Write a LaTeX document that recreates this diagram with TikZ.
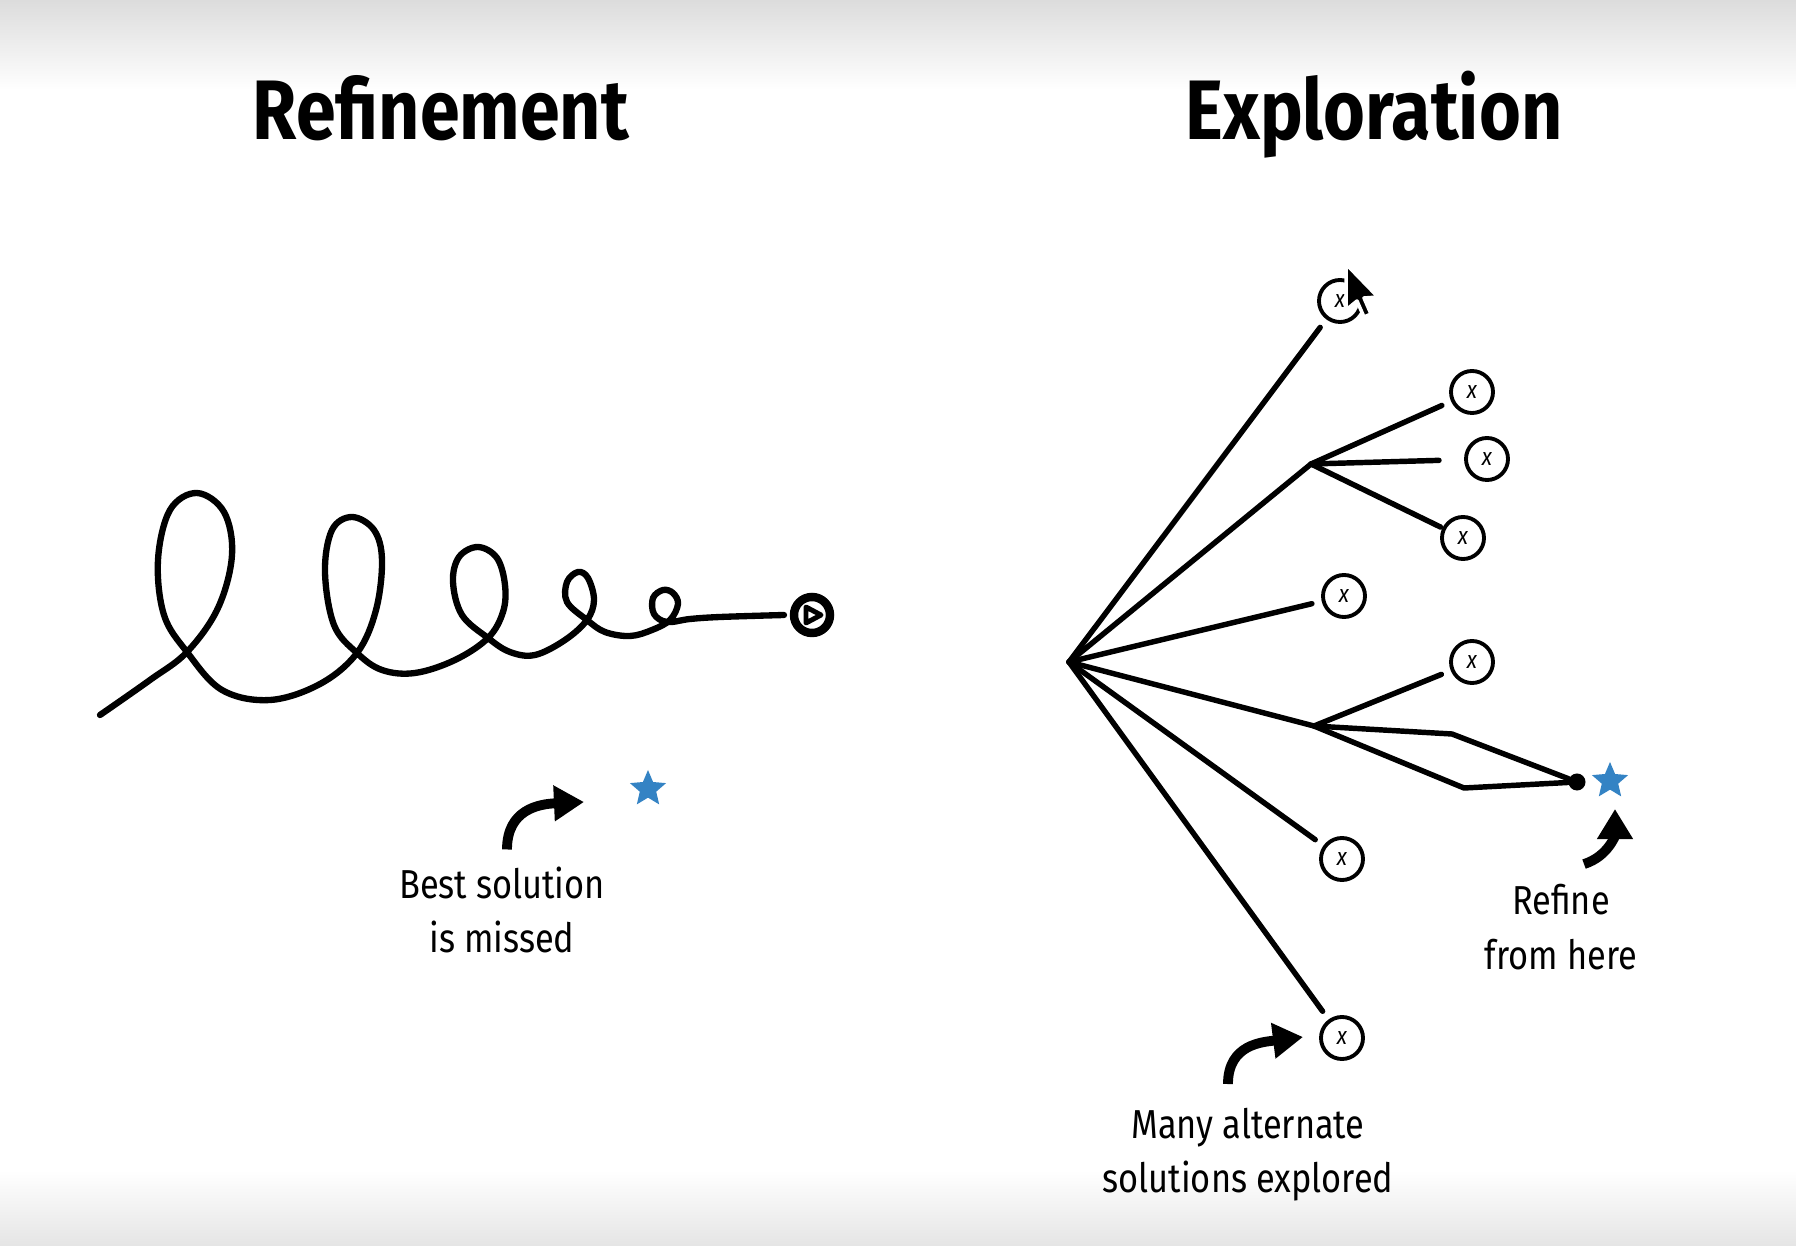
\documentclass[tikz,border=0pt]{standalone}
\usepackage{fontspec}
\setmainfont{Fira Sans}
\newfontfamily\handfont[FakeStretch=0.85]{Fira Sans}
\usetikzlibrary{arrows.meta, positioning, shapes.geometric, calc}
\definecolor{starblue}{RGB}{52, 131, 196}
\definecolor{fadegray}{RGB}{220, 220, 220}
\tikzset{
  headline/.style={font=\handfont\bfseries\fontsize{24}{28}\selectfont, anchor=base},
  note/.style={font=\handfont\fontsize{11.5}{15.4}\selectfont, align=center},
  branch/.style={line width=1.55pt, line cap=round, line join=round},
  loopline/.style={line width=1.8pt, line cap=round, line join=round},
  leaf/.style={circle, draw, line width=1.1pt, minimum size=0.42cm, inner sep=0pt,
              outer sep=0.12cm, font=\handfont\itshape\scriptsize},
  ring/.style={circle, draw, line width=2.4pt, minimum size=0.36cm, inner sep=0pt, outer sep=0.1cm},
  dot/.style={circle, fill, minimum size=0.17cm, inner sep=0pt},
  beststar/.style={star, star points=5, star point ratio=2.2, fill=starblue,
              minimum size=0.38cm, inner sep=0pt},
  curl/.style={line width=2.8pt, -{Triangle[length=0.3cm, width=0.34cm]}},
}

\begin{document}
\begin{tikzpicture}[x=0.01cm, y=-0.01cm]
  \useasboundingbox (0,0) rectangle (1796,1246);
  \fill[white] (0,0) rectangle (1796,1246);
  \shade[top color=fadegray, bottom color=white] (0,0) rectangle (1796,90);
  \shade[top color=white, bottom color=fadegray!75] (0,1170) rectangle (1796,1246);

  % titles
  \node[headline] (refine) at (441,140) {Refinement};
  \node[headline] (explore) at (1374,140) {Exploration};

  % refinement: the loop path
  \node[ring] (goal) at (812,615) {};
  \draw[line width=1.4pt, line join=round, shift={(goal.center)}] (-6,-8) -- (9,0) -- (-6,8) -- cycle;
  \draw[loopline] plot[smooth, tension=0.6] coordinates {(100,715) (150,680) (187,652)
    (218,608) (232,555) (224,512) (197,493) (170,510) (158,560) (164,615) (187,652)
    (222,690) (270,700) (320,684) (357,653) (376,610) (382,560) (374,530) (352,517)
    (332,530) (325,572) (334,625) (357,653) (382,670) (415,673) (455,660) (488,638)
    (503,612) (505,585) (497,558) (478,547) (459,557) (453,582) (462,615) (488,638)
    (510,652) (535,655) (565,640) (587,620) (594,600) (588,578) (578,572) (567,582)
    (567,602) (587,620) (605,632) (630,636) (652,630) (670,620) (678,604) (673,593)
    (663,590) (653,598) (654,614) (667,622) (690,619) (720,617) (goal.west)};

  \node[beststar] (best) at (648,789) {};
  \node[note] (missed) at (502,910) {Best solution\\is missed};
  \coordinate (missTip) at (584,802);
  \draw[curl] ([xshift=0.05cm, yshift=0.05cm]missed.north) .. controls +(0,-40) and +(-45,2) .. (missTip);

  % exploration: the tree
  \coordinate (root) at (1069,662);
  \coordinate (forkA) at (1311,464);
  \coordinate (forkB) at (1314,726);
  \coordinate (bendU) at (1452,734);
  \coordinate (bendL) at (1464,788);
  \node[leaf] (top) at (1340,301) {x};
  \node[leaf] (a1) at (1472,392) {x};
  \node[leaf] (a2) at (1487,459) {x};
  \node[leaf] (a3) at (1463,538) {x};
  \node[leaf] (mid) at (1344,596) {x};
  \node[leaf] (b1) at (1472,662) {x};
  \node[leaf] (low) at (1342,859) {x};
  \node[leaf] (bottom) at (1342,1038) {x};
  \node[dot] (hit) at (1577,782) {};
  \node[beststar] (found) at (1610,781) {};

  \draw[branch] (root) -- (top);
  \draw[branch] (root) -- (forkA) -- (a1);
  \draw[branch, shorten >=0.15cm] (forkA) -- (a2);
  \draw[branch, shorten >=-0.08cm] (forkA) -- (a3);
  \draw[branch] (root) -- (mid);
  \draw[branch] (root) -- (forkB) -- (b1);
  \draw[branch] (forkB) -- (bendU) -- (hit);
  \draw[branch] (forkB) -- (bendL) -- (hit);
  \draw[branch] (root) -- (low);
  \draw[branch] (root) -- (bottom);

  % mouse pointer over the top leaf
  \coordinate (pointer) at (1346,264);
  \filldraw[fill=black, draw=white, line width=1pt, line join=round, shift={(pointer)}]
    (0,0) -- (0,46) -- (11,37) -- (18,53) -- (25,50) -- (18,34) -- (32,33) -- cycle;

  \node[note] (refhere) at (1561,927) {Refine\\from here};
  \coordinate (refTip) at (1615,809);
  \draw[curl] ([xshift=0.23cm, yshift=0.08cm]refhere.north) .. controls +(25,-8) and +(0,25) .. (refTip);

  \node[note] (many) at (1248,1155) {Many alternate\\solutions explored};
  \coordinate (manyTip) at (1303,1037);
  \draw[curl] ([xshift=-0.2cm, yshift=0.12cm]many.north) .. controls +(0,-40) and +(-40,5) .. (manyTip);
\end{tikzpicture}
\end{document}
